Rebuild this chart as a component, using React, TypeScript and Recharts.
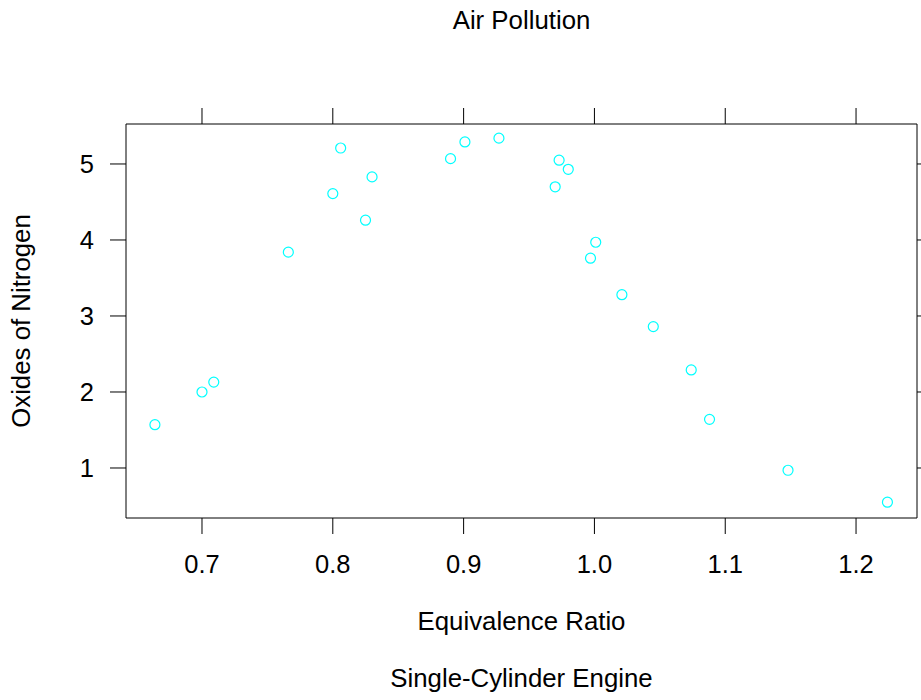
import { ScatterChart, Scatter, XAxis, YAxis } from 'recharts';

// ── Data ────────────────────────────────────────────────
const equivalenceRatio = [
  0.664, 0.7, 0.709, 0.766, 0.8, 0.806, 0.825, 0.83, 0.89, 0.901, 0.927,
  0.97, 0.973, 0.98, 1.001, 0.997, 1.021, 1.045, 1.074, 1.088, 1.148, 1.224,
];
const oxidesOfNitrogen = [
  1.57, 2.0, 2.13, 3.84, 4.61, 5.21, 4.26, 4.83, 5.07, 5.29, 5.34,
  4.7, 5.05, 4.93, 3.97, 3.76, 3.28, 2.86, 2.29, 1.64, 0.97, 0.55,
];
const xTicks = [0.7, 0.8, 0.9, 1.0, 1.1, 1.2];
const yTicks = [1, 2, 3, 4, 5];

const points = equivalenceRatio.map((x, i) => ({ x, y: oxidesOfNitrogen[i] }));

const FONT = '"Liberation Sans", Arial, Helvetica, sans-serif';
const INK = '#000';

const OpenCircle = (props: any) => {
  const { cx, cy } = props;
  if (cx == null || cy == null) return null;
  return <circle cx={cx} cy={cy} r={5} fill="none" stroke="#00ffff" strokeWidth={1.2} />;
};

export default function App() {
  const tickStyle = { fill: INK, fontSize: 25.5, fontFamily: FONT };
  return (
    <div style={{ position: 'absolute', left: 0, top: 0, width: 921, height: 700, background: '#fff' }}>
      <ScatterChart
        width={921}
        height={700}
        margin={{ top: 104, right: 0, bottom: 122, left: 66 }}
      >
        <XAxis
          xAxisId="bottom"
          type="number"
          dataKey="x"
          domain={[0.6419, 1.2466]}
          ticks={xTicks}
          allowDataOverflow
          height={60}
          tickSize={16}
          tickMargin={21}
          tick={tickStyle}
          tickFormatter={(v: number) => v.toFixed(1)}
          stroke={INK}
        />
        <XAxis
          xAxisId="top"
          orientation="top"
          type="number"
          dataKey="x"
          domain={[0.6419, 1.2466]}
          ticks={xTicks}
          allowDataOverflow
          height={20}
          tickSize={16}
          tickFormatter={() => ''}
          stroke={INK}
        />
        <YAxis
          yAxisId="left"
          type="number"
          dataKey="y"
          domain={[0.342, 5.526]}
          ticks={yTicks}
          allowDataOverflow
          width={60}
          tickSize={16}
          tickMargin={16}
          tick={tickStyle}
          stroke={INK}
        />
        <YAxis
          yAxisId="right"
          orientation="right"
          type="number"
          dataKey="y"
          domain={[0.342, 5.526]}
          ticks={yTicks}
          allowDataOverflow
          width={4}
          tickSize={16}
          tickFormatter={() => ''}
          stroke={INK}
        />
        <Scatter
          data={points}
          xAxisId="bottom"
          yAxisId="left"
          shape={OpenCircle}
          isAnimationActive={false}
        />
      </ScatterChart>
      <svg
        width={921}
        height={700}
        style={{ position: 'absolute', left: 0, top: 0, pointerEvents: 'none' }}
        fontFamily={FONT}
        fontSize={25.8}
        fill={INK}
      >
        <text x={521.5} y={29} textAnchor="middle">Air Pollution</text>
        <text x={521.5} y={630} textAnchor="middle">Equivalence Ratio</text>
        <text x={521.5} y={687} textAnchor="middle">Single-Cylinder Engine</text>
        <text x={30} y={321} textAnchor="middle" transform="rotate(-90 30 321)">
          Oxides of Nitrogen
        </text>
      </svg>
    </div>
  );
}
